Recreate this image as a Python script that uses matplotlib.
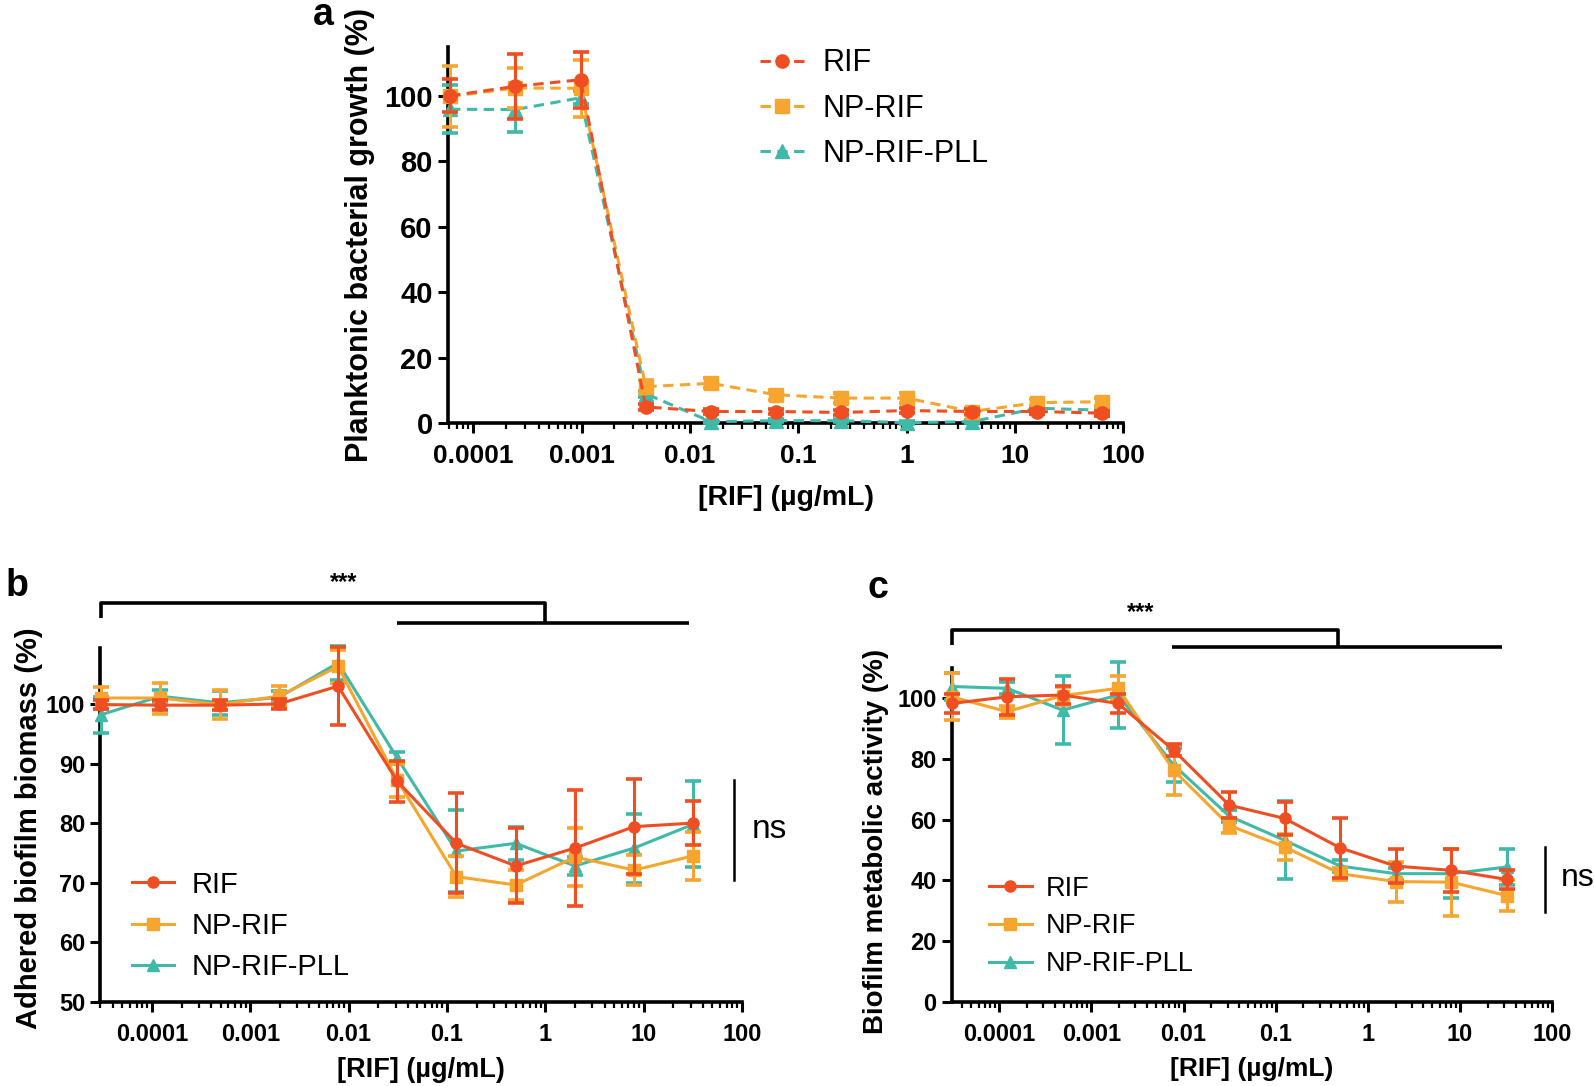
import numpy as np
import matplotlib
matplotlib.use("Agg")
import matplotlib.pyplot as plt
from matplotlib.ticker import FixedLocator, FixedFormatter, LogLocator, NullFormatter
from matplotlib.lines import Line2D

plt.rcParams['font.family'] = ['Liberation Sans', 'DejaVu Sans']

# ---------------- data ----------------
series = ["RIF", "NP-RIF", "NP-RIF-PLL"]
colors = ["#EF4E22", "#F6A52E", "#3FB9A8"]
markers = ["o", "s", "^"]

xtick_vals = [1e-4, 1e-3, 1e-2, 1e-1, 1, 10, 100]
xtick_labels = ["0.0001", "0.001", "0.01", "0.1", "1", "10", "100"]

# panel a: planktonic growth
conc_a = [6.1e-5, 2.44e-4, 9.77e-4, 3.91e-3, 1.5625e-2, 6.25e-2, 0.25, 1, 4, 16, 64]
a_rif = [100.0, 102.9, 104.9, 5.0, 3.6, 3.6, 3.3, 3.9, 3.6, 3.6, 3.1]
a_rif_err = [5.0, 10.0, 8.5, 1.0, 0.8, 0.8, 0.8, 0.8, 0.8, 0.8, 0.8]
a_np = [99.8, 102.4, 102.3, 11.2, 12.2, 8.7, 7.7, 7.7, 3.6, 6.3, 6.6]
a_np_err = [9.2, 6.0, 8.7, 2.0, 1.5, 1.5, 1.5, 1.5, 1.0, 1.2, 1.2]
a_pll = [95.9, 95.8, 99.4, 9.0, 0.5, 0.8, 0.8, 0.2, 0.5, 4.6, 4.0]
a_pll_err = [7.3, 6.7, 2.0, 1.0, 0.5, 0.5, 0.5, 0.5, 0.5, 0.8, 0.8]

# panels b, c: concentrations
conc_bc = [3.05e-5, 1.22e-4, 4.88e-4, 1.95e-3, 7.81e-3, 3.125e-2, 0.125, 0.5, 2, 8, 32]

# panel b: adhered biofilm biomass
b_rif = [99.9, 99.8, 99.8, 100.0, 103.0, 87.0, 76.6, 72.8, 75.8, 79.4, 80.0]
b_rif_err = [0.8, 0.8, 0.8, 0.8, 6.6, 3.4, 8.4, 6.3, 9.7, 8.0, 3.7]
b_np = [101.0, 101.0, 99.9, 101.3, 106.3, 87.2, 71.0, 69.6, 74.3, 72.1, 74.5]
b_np_err = [1.8, 2.6, 2.5, 1.7, 2.8, 2.8, 3.5, 2.6, 4.9, 2.5, 4.0]
b_pll = [98.2, 101.3, 100.2, 101.1, 106.9, 90.9, 75.3, 76.6, 72.8, 75.8, 79.8]
b_pll_err = [3.0, 1.0, 2.0, 1.0, 2.8, 1.0, 6.9, 2.8, 1.5, 5.8, 7.2]

# panel c: biofilm metabolic activity
c_rif = [98.3, 100.5, 101.1, 98.3, 82.9, 64.8, 60.4, 50.7, 44.7, 43.3, 40.3]
c_rif_err = [3.0, 6.0, 3.0, 3.0, 2.0, 4.4, 5.5, 10.0, 5.7, 7.0, 3.0]
c_np = [100.5, 95.6, 100.9, 103.3, 76.3, 58.1, 51.0, 42.2, 39.6, 39.4, 35.0]
c_np_err = [7.7, 2.0, 3.0, 3.9, 8.2, 2.5, 4.4, 2.0, 6.6, 11.0, 5.0]
c_pll = [103.9, 103.3, 96.1, 101.1, 78.0, 61.2, 53.2, 44.7, 42.2, 42.2, 44.4]
c_pll_err = [4.4, 2.0, 11.3, 11.0, 5.5, 2.0, 12.8, 2.0, 2.0, 8.0, 6.0]

# ---------------- figure ----------------
W, H = 1594, 1086
fig = plt.figure(figsize=(W / 100, H / 100), dpi=100)


def rect(l, r, b, t):
    return [l / W, 1 - b / H, (r - l) / W, (b - t) / H]


axA = fig.add_axes(rect(448, 1123.3, 423.3, 46.7))
axB = fig.add_axes(rect(100.5, 742, 1001.7, 648))
axC = fig.add_axes(rect(951.7, 1552.3, 1001.7, 668))


def style(ax, xlim, ylim, yticks, fsx, fsy):
    ax.set_xscale('log')
    ax.set_xlim(*xlim)
    ax.set_ylim(*ylim)
    for s in ['top', 'right']:
        ax.spines[s].set_visible(False)
    for s in ['left', 'bottom']:
        ax.spines[s].set_linewidth(2.6)
    ax.xaxis.set_major_locator(FixedLocator(xtick_vals))
    ax.xaxis.set_major_formatter(FixedFormatter(xtick_labels))
    ax.xaxis.set_minor_locator(LogLocator(base=10, subs=np.arange(2, 10), numticks=50))
    ax.xaxis.set_minor_formatter(NullFormatter())
    ax.set_yticks(yticks)
    ax.tick_params(axis='both', which='major', direction='out', length=7, width=2.2, pad=4)
    ax.tick_params(axis='x', which='major', pad=8, labelsize=fsx)
    ax.tick_params(axis='y', which='major', labelsize=fsy)
    ax.tick_params(axis='x', which='minor', direction='out', length=4, width=1.6)
    for lab in ax.get_xticklabels() + ax.get_yticklabels():
        lab.set_fontweight('bold')


def draw(ax, x, ys, errs, dashed, ms):
    handles = []
    order = [2, 1, 0]
    for i in order:
        ls = (0, (3.4, 2.1)) if dashed else '-'
        cont = ax.errorbar(x, ys[i], yerr=errs[i], color=colors[i], marker=markers[i],
                           ms=ms, linestyle=ls, lw=2.2, elinewidth=2.2, capsize=6,
                           capthick=2.6, zorder=3 + (2 - i))
        for art in cont.get_children():
            art.set_clip_on(False)
    for i in range(3):
        handles.append(Line2D([0], [0], color=colors[i], marker=markers[i], ms=ms,
                              linestyle=(0, (3.4, 2.1)) if dashed else '-', lw=2.2))
    return handles


# ---------- panel a ----------
style(axA, (10 ** (-4 - 25.3 / 108.3), 100), (0, 115), [0, 20, 40, 60, 80, 100], 19, 21)
hA = draw(axA, conc_a, [a_rif, a_np, a_pll], [a_rif_err, a_np_err, a_pll_err], True, 9.5)
axA.set_ylabel("Planktonic bacterial growth (%)", fontsize=22, fontweight='bold')
axA.yaxis.set_label_coords(-0.108, 0.5)
axA.set_xlabel("[RIF] (\u00b5g/mL)", fontsize=20.5, fontweight='bold')
axA.xaxis.set_label_coords(0.5, -0.164)
axA.legend(hA, series, loc='upper left', bbox_to_anchor=(745 / W, 1 - 33 / H),
           bbox_transform=fig.transFigure, frameon=False, fontsize=22,
           handlelength=1.45, handletextpad=0.6, labelspacing=0.5, borderpad=0)

# ---------- panel b ----------
style(axB, (3.0e-5, 100), (50, 109.4), [50, 60, 70, 80, 90, 100], 17, 17)
hB = draw(axB, conc_bc, [b_rif, b_np, b_pll], [b_rif_err, b_np_err, b_pll_err], False, 8)
axB.set_ylabel("Adhered biofilm biomass (%)", fontsize=21, fontweight='bold')
axB.yaxis.set_label_coords(-0.089, 0.49)
axB.set_xlabel("[RIF] (\u00b5g/mL)", fontsize=19.5, fontweight='bold')
axB.xaxis.set_label_coords(0.5, -0.156)
axB.legend(hB, series, loc='upper left', bbox_to_anchor=(117.5 / W, 1 - 856 / H),
           bbox_transform=fig.transFigure, frameon=False, fontsize=21,
           handlelength=1.45, handletextpad=0.6, labelspacing=0.46, borderpad=0)

# brackets b
kw = dict(color='black', lw=2.6, clip_on=False, solid_capstyle='butt', zorder=5)
axB.plot([conc_bc[0], conc_bc[0], 1.0, 1.0], [114.5, 117.0, 117.0, 113.6], **kw)
axB.plot([0.031, 28.6], [113.6, 113.6], **kw)
axB.text(0.009, 118.5, "***", ha='center', va='bottom', fontsize=17, fontweight='bold')
axB.plot([83, 83], [70.4, 87.2], color='black', lw=1.8, clip_on=False)
axB.text(126, 79, "ns", ha='left', va='center', fontsize=24)

# ---------- panel c ----------
style(axC, (10 ** -4.515, 100), (0, 110), [0, 20, 40, 60, 80, 100], 17, 17)
hC = draw(axC, conc_bc, [c_rif, c_np, c_pll], [c_rif_err, c_np_err, c_pll_err], False, 8)
axC.set_ylabel("Biofilm metabolic activity (%)", fontsize=20, fontweight='bold')
axC.yaxis.set_label_coords(-0.104, 0.48)
axC.set_xlabel("[RIF] (\u00b5g/mL)", fontsize=19, fontweight='bold')
axC.xaxis.set_label_coords(0.5, -0.166)
axC.legend(hC, series, loc='upper left', bbox_to_anchor=(975 / W, 1 - 862 / H),
           bbox_transform=fig.transFigure, frameon=False, fontsize=19.5,
           handlelength=1.6, handletextpad=0.5, labelspacing=0.44, borderpad=0)

axC.plot([conc_bc[0], conc_bc[0], 0.47, 0.47], [117.6, 122.5, 122.5, 116.9], **kw)
axC.plot([0.0075, 28.7], [116.9, 116.9], **kw)
axC.text(0.0034, 124.5, "***", ha='center', va='bottom', fontsize=17, fontweight='bold')
axC.plot([83, 83], [29.7, 51.1], color='black', lw=1.8, clip_on=False)
axC.text(125, 40.8, "ns", ha='left', va='center', fontsize=23)

# panel letters
fig.text(323 / W, 1 - 15 / H, "a", fontsize=27, fontweight='bold', ha='center', va='center')
fig.text(17 / W, 1 - 586 / H, "b", fontsize=27, fontweight='bold', ha='center', va='center')
fig.text(878 / W, 1 - 588 / H, "c", fontsize=27, fontweight='bold', ha='center', va='center')

fig.savefig("out.png", dpi=100)
